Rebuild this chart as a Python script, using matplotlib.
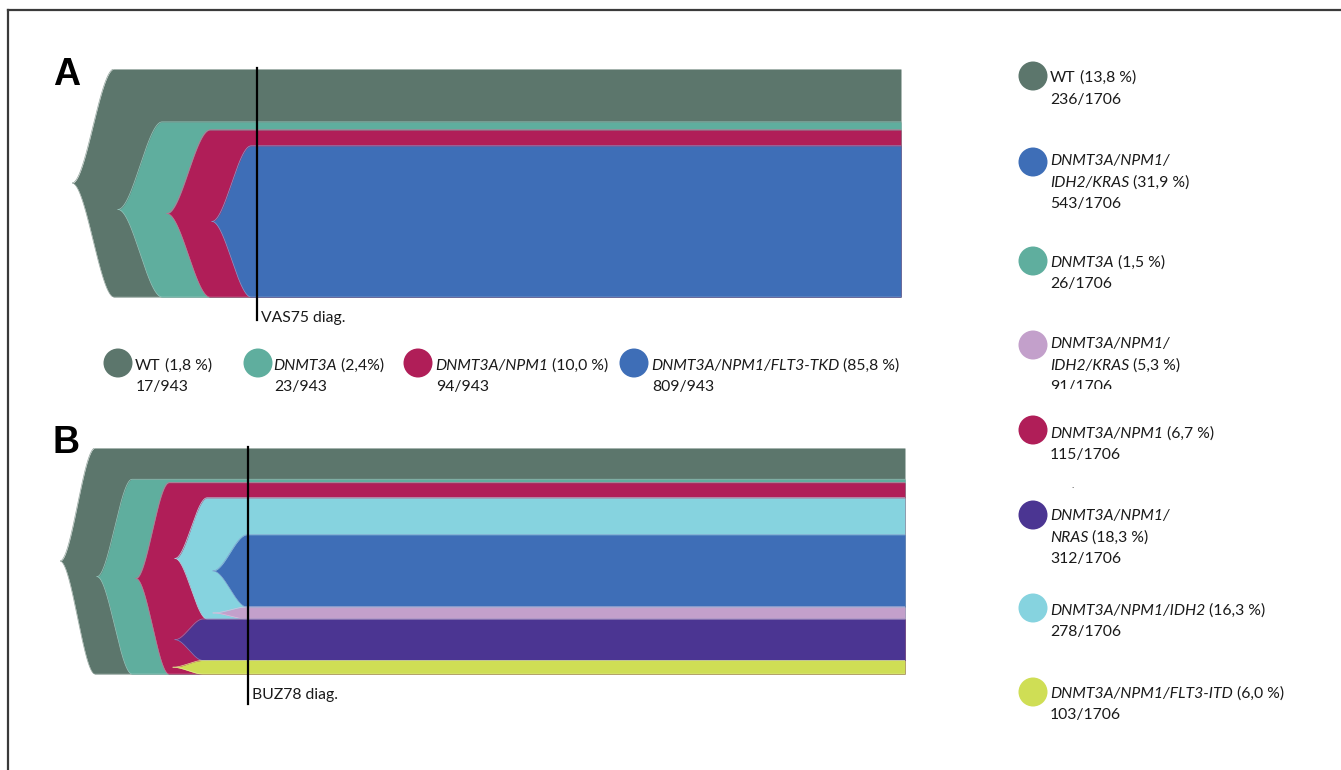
import numpy as np
import matplotlib
matplotlib.use("Agg")
import matplotlib.pyplot as plt
from matplotlib.patches import Circle
from matplotlib.lines import Line2D
from matplotlib.transforms import Bbox, TransformedBbox
from matplotlib.colors import to_rgb

# ---------------- data ----------------
# Panel A (VAS75): clones, parent links, visible band share at the right end (% of height)
a_clones = ["WT", "DNMT3A", "DNMT3A/NPM1", "DNMT3A/NPM1/FLT3-TKD"]
a_parent = [-1, 0, 1, 2]
a_band = [23.2, 3.5, 7.0, 66.3]
a_emerge = [0, 46, 95, 140]      # time where clone appears
a_full = [42, 90, 138, 179]      # time where clone reaches full size
a_diag = 185
a_end = 829
a_pct = [1.8, 2.4, 10.0, 85.8]
a_pct_space = [True, False, True, True]
a_n = [17, 23, 94, 809]
a_total = 943

# Panel B (BUZ78)
b_clones = ["WT", "DNMT3A", "DNMT3A/NPM1", "DNMT3A/NPM1/IDH2",
            "DNMT3A/NPM1/IDH2/KRAS", "DNMT3A/NPM1/IDH2/KRAS", "DNMT3A/NPM1/NRAS",
            "DNMT3A/NPM1/FLT3-ITD"]
b_parent = [-1, 0, 1, 2, 3, 3, 2, 2]
b_pct = [13.8, 1.5, 6.7, 16.3, 31.9, 5.3, 18.3, 6.0]
b_n = [236, 26, 115, 278, 543, 91, 312, 103]
b_total = 1706
b_emerge = [0, 37, 76, 115, 153, 153, 115, 113]
b_full = [35, 72, 109, 147, 187, 187, 143, 143]
b_diag = 188
b_end = 845

# legend order on the right (indices into b_*) and line breaks
b_legend_order = [0, 4, 1, 5, 2, 6, 3, 7]
b_legend_lines = {4: ["DNMT3A/NPM1/", "IDH2/KRAS"], 5: ["DNMT3A/NPM1/", "IDH2/KRAS"],
                  6: ["DNMT3A/NPM1/", "NRAS"]}

# ---------------- styles ----------------
C_WT = "#5c766c"
C_TEAL = "#5fae9e"
C_RED = "#b01e58"
C_BLUE = "#3e6eb7"
C_LBLUE = "#86d3df"
C_LAV = "#c3a0cb"
C_PURP = "#4b3592"
C_YEL = "#cfde55"
a_colors = [C_WT, C_TEAL, C_RED, C_BLUE]
b_colors = [C_WT, C_TEAL, C_RED, C_LBLUE, C_BLUE, C_LAV, C_PURP, C_YEL]

FONT = "Lato"
TXT = "#1a1a1a"
FS = 11.3

W, H = 1341, 770
fig = plt.figure(figsize=(W / 100, H / 100), dpi=100)


def lighten(c, k=0.35):
    r = np.array(to_rgb(c))
    return tuple(r + (1 - r) * k)


def fish(ax, parent, own, t0, t1, tend, colors):
    n = len(own)
    children = [[] for _ in range(n)]
    for i, p in enumerate(parent):
        if p >= 0:
            children[p].append(i)
    total = [0.0] * n

    def tot(i):
        total[i] = own[i] + sum(tot(c) for c in children[i])
        return total[i]

    roots = [i for i in range(n) if parent[i] < 0]
    for r in roots:
        tot(r)
    top = [0.0] * n
    bot = [0.0] * n

    def place(i, y0):
        top[i] = y0
        bot[i] = y0 + total[i]
        y = y0 + own[i]
        for c in children[i]:
            place(c, y)
            y += total[c]

    y = 0.0
    for r in roots:
        place(r, y)
        y += total[r]
    ymax = y
    for i in range(n):
        x = np.concatenate([np.linspace(t0[i], t1[i], 300), np.linspace(t1[i], tend, 50)])
        s = np.clip((x - t0[i]) / (t1[i] - t0[i]), 0, 1)
        f = s * s * (3 - 2 * s)
        mid = (top[i] + bot[i]) / 2
        yt = mid - (mid - top[i]) * f
        yb = mid + (bot[i] - mid) * f
        ax.fill_between(x, yt, yb, color=colors[i], lw=0, zorder=2 + i)
        ax.plot(x, yt, color=lighten(colors[i]), lw=0.5, zorder=2 + i)
        ax.plot(x, yb, color=lighten(colors[i]), lw=0.5, zorder=2 + i)
    ax.set_xlim(0, tend)
    ax.set_ylim(ymax, 0)
    ax.axis("off")


# Panel A axes
axA = fig.add_axes([72 / W, 1 - 297 / H, 829 / W, 228 / H])
fish(axA, a_parent, a_band, a_emerge, a_full, a_end, a_colors)
axA.axvline(a_diag, ymin=-0.10, ymax=1.005, color="black", lw=1.6, clip_on=False, zorder=20)
axA.annotate("VAS75 diag.", xy=(a_diag, -0.09), xycoords=axA.get_xaxis_transform(),
             xytext=(4, 0), textcoords="offset pixels", ha="left", va="center",
             fontsize=FS, family=FONT, color=TXT, annotation_clip=False)

# Panel B axes
axB = fig.add_axes([60 / W, 1 - 674 / H, 845 / W, 226 / H])
fish(axB, b_parent, b_pct, b_emerge, b_full, b_end, b_colors)
axB.axvline(b_diag, ymin=-0.133, ymax=1.005, color="black", lw=1.6, clip_on=False, zorder=20)
axB.annotate("BUZ78 diag.", xy=(b_diag, -0.092), xycoords=axB.get_xaxis_transform(),
             xytext=(4, 0), textcoords="offset pixels", ha="left", va="center",
             fontsize=FS, family=FONT, color=TXT, annotation_clip=False)

# overlay axes in pixel coordinates for labels/legends
lax = fig.add_axes([0, 0, 1, 1], zorder=30)
lax.set_xlim(0, W)
lax.set_ylim(H, 0)
lax.axis("off")

lax.text(53, 57, "A", fontsize=27, fontweight="bold", family="Liberation Sans",
         ha="left", va="top", color="black")
lax.text(53, 425, "B", fontsize=27, fontweight="bold", family="Liberation Sans",
         ha="left", va="top", color="black")

# frame
fig.add_artist(Line2D([8 / W, 1], [1 - 10 / H, 1 - 10 / H], color="#3a3a3a", lw=1.6))
fig.add_artist(Line2D([8 / W, 8 / W], [0, 1 - 10 / H], color="#3a3a3a", lw=1.6))


def rich(x, y, parts, clip=None):
    """parts: list of (text, italic)"""
    prev = None
    arts = []
    for txt, it in parts:
        style = "italic" if it else "normal"
        if prev is None:
            t = lax.text(x, y, txt, fontsize=FS, family=FONT, style=style,
                         ha="left", va="center", color=TXT)
        else:
            t = lax.annotate(txt, xy=(1, 0), xycoords=prev, ha="left", va="bottom",
                             fontsize=FS, family=FONT, style=style, color=TXT)
        arts.append(t)
        prev = t
    if clip is not None:
        for t in arts:
            t.set_clip_box(clip)
            t.set_clip_on(True)
    return arts


def pct_str(p, space=True):
    return (" (%.1f" % p).replace(".", ",") + (" %)" if space else "%)")


# legend A (row)
a_circ_x = [118, 258, 418, 634]
a_text_x = [135, 273, 435, 651]
for i in range(4):
    lax.add_patch(Circle((a_circ_x[i], 363), 14.5, color=a_colors[i], lw=0))
    if a_clones[i] == "WT":
        rich(a_text_x[i], 366, [("WT", False), (pct_str(a_pct[i], a_pct_space[i]), False)])
    else:
        rich(a_text_x[i], 366, [(a_clones[i], True), (pct_str(a_pct[i], a_pct_space[i]), False)])
    lax.text(a_text_x[i] + 1, 387, "%d/%d" % (a_n[i], a_total), fontsize=FS, family=FONT,
             ha="left", va="center", color=TXT)

# legend B (column on the right)
b_circ_y = [76, 162, 261, 345, 430, 515, 608, 692]
b_line1_y = [78, 161, 263, 344, 434, 516, 611, 694]
clip91 = TransformedBbox(Bbox.from_extents(1000 / W, 1 - 389 / H, 1, 1), fig.transFigure)
for k, idx in enumerate(b_legend_order):
    lax.add_patch(Circle((1033, b_circ_y[k]), 14.5, color=b_colors[idx], lw=0))
    y = b_line1_y[k]
    clip = clip91 if idx == 5 else None
    if b_clones[idx] == "WT":
        rich(1050, y, [("WT", False), (pct_str(b_pct[idx]), False)])
        y += 22
    elif idx in b_legend_lines:
        l1, l2 = b_legend_lines[idx]
        rich(1050, y, [(l1, True)], clip)
        y += 22
        rich(1050, y, [(l2, True), (pct_str(b_pct[idx]), False)], clip)
        y += 21
    else:
        rich(1050, y, [(b_clones[idx], True), (pct_str(b_pct[idx]), False)])
        y += 21
    t = lax.text(1050, y, "%d/%d" % (b_n[idx], b_total), fontsize=FS, family=FONT,
                 ha="left", va="center", color=TXT)
    if clip is not None:
        t.set_clip_box(clip)
        t.set_clip_on(True)

lax.text(1073, 486, ".", fontsize=7, family=FONT, ha="center", va="center", color=TXT)

fig.savefig("out.png", dpi=100)
